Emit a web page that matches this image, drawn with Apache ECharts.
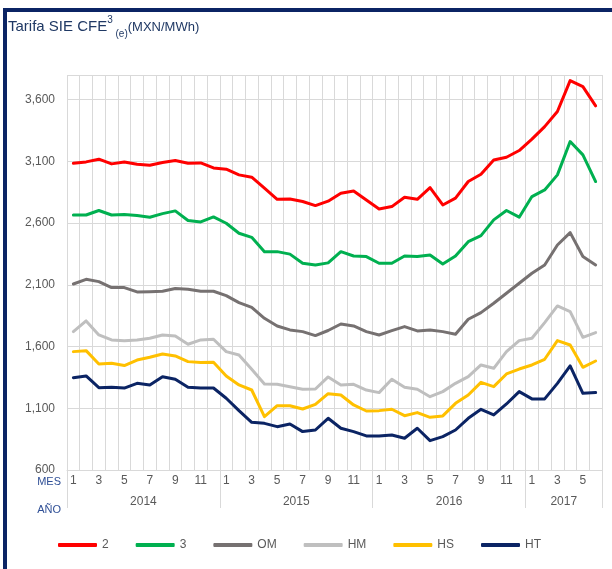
<!DOCTYPE html>
<html>
<head>
<meta charset="utf-8">
<script src="https://cdn.jsdelivr.net/npm/echarts@6/dist/echarts.min.js"></script>
<style>
  html, body { margin: 0; padding: 0; background: #fff; overflow: hidden; }
  #chart { width: 612px; height: 569px; }
  .frame {
    position: absolute; left: 3px; top: 8px; width: 800px; height: 800px;
    border-left: 4px solid #0b2464; border-top: 4px solid #0b2464;
    pointer-events: none;
  }
</style>
</head>
<body>
<div id="chart"></div>
<div class="frame"></div>
<script>
// ── data ─────────────────────────────────────────────────
const monthLabels = [
  '1','2','3','4','5','6','7','8','9','10','11','12',
  '1','2','3','4','5','6','7','8','9','10','11','12',
  '1','2','3','4','5','6','7','8','9','10','11','12',
  '1','2','3','4','5','6',
]
const years     = ['2014', '2015', '2016', '2017']
const yearSpans = [12, 12, 12, 6]
const yTicks    = { min: 600, max: 3800, step: 500 }

const tarifa2  = [3085, 3096, 3118, 3080, 3096, 3077, 3069, 3091, 3107, 3085, 3088, 3047,
                  3037, 2991, 2972, 2883, 2793, 2796, 2775, 2742, 2778, 2842, 2861, 2788,
                  2715, 2734, 2810, 2793, 2888, 2747, 2802, 2937, 2996, 3112, 3134, 3188,
                  3280, 3382, 3504, 3755, 3706, 3550]
const tarifa3  = [2666, 2666, 2702, 2666, 2669, 2661, 2648, 2677, 2699, 2621, 2610, 2650,
                  2599, 2518, 2485, 2369, 2369, 2349, 2275, 2261, 2278, 2369, 2334, 2329,
                  2275, 2275, 2334, 2329, 2342, 2269, 2334, 2450, 2499, 2626, 2702, 2648,
                  2815, 2869, 2991, 3261, 3153, 2937]
const tarifaOM = [2107, 2145, 2126, 2078, 2078, 2043, 2045, 2048, 2070, 2064, 2048, 2048,
                  2013, 1956, 1918, 1829, 1767, 1735, 1721, 1689, 1730, 1783, 1767, 1721,
                  1694, 1729, 1762, 1727, 1735, 1721, 1700, 1821, 1875, 1951, 2032, 2113,
                  2194, 2261, 2423, 2523, 2329, 2261]
const tarifaHM = [1721, 1808, 1694, 1654, 1648, 1654, 1667, 1694, 1686, 1619, 1654, 1659,
                  1559, 1532, 1416, 1297, 1294, 1275, 1254, 1256, 1354, 1289, 1294, 1248,
                  1227, 1335, 1270, 1254, 1194, 1235, 1302, 1356, 1451, 1424, 1559, 1648,
                  1667, 1794, 1929, 1883, 1675, 1713]
const tarifaHS = [1559, 1567, 1459, 1464, 1446, 1491, 1513, 1540, 1524, 1478, 1470, 1473,
                  1362, 1289, 1248, 1032, 1121, 1121, 1094, 1132, 1218, 1208, 1127, 1078,
                  1081, 1092, 1040, 1065, 1027, 1038, 1140, 1208, 1310, 1275, 1378, 1418,
                  1451, 1497, 1648, 1613, 1432, 1483]
const tarifaHT = [1348, 1362, 1267, 1270, 1264, 1302, 1289, 1356, 1335, 1270, 1264, 1264,
                  1181, 1081,  986,  978,  951,  973,  911,  924, 1019,  938,  911,  876,
                   876,  884,  857,  938,  838,  870,  924, 1019, 1092, 1046, 1135, 1235,
                  1176, 1176, 1302, 1443, 1221, 1227]

const seriesDefs = [
  { name: '2',  data: tarifa2,  color: '#ff0000' },
  { name: '3',  data: tarifa3,  color: '#00b050' },
  { name: 'OM', data: tarifaOM, color: '#767171' },
  { name: 'HM', data: tarifaHM, color: '#bfbfbf' },
  { name: 'HS', data: tarifaHS, color: '#ffc000' },
  { name: 'HT', data: tarifaHT, color: '#0b2464' },
]

// year boundaries / centres on a 0..n month scale
const yearEdges = [0]
yearSpans.forEach(s => yearEdges.push(yearEdges[yearEdges.length - 1] + s))
const yearCenters = yearSpans.map((s, i) => yearEdges[i] + s / 2)

// ── chart ────────────────────────────────────────────────
const FONT  = 'Liberation Sans'
const GREY  = '#595959'
const GRID  = '#d9d9d9'
const NAVY  = '#1f3864'

const chart = echarts.init(document.getElementById('chart'))

const titleTok = (size, extra) => ({
  fontFamily: FONT, fontSize: size, fontWeight: 'normal', color: NAVY, ...extra,
})

chart.setOption({
  animation: false,
  textStyle: { fontFamily: FONT },
  title: {
    left: 8, top: 15, padding: 0,
    text: '{a|Tarifa SIE CFE}{sup|3}{sub| (e)}{b|(MXN/MWh)}',
    textStyle: {
      fontWeight: 'normal',
      rich: {
        a:   titleTok(15, { lineHeight: 24 }),
        sup: titleTok(10, { verticalAlign: 'top', lineHeight: 14 }),
        sub: titleTok(10, { verticalAlign: 'bottom', lineHeight: 12 }),
        b:   titleTok(13, { lineHeight: 24 }),
      },
    },
  },
  legend: {
    left: 53, top: 534,
    itemWidth: 39, itemHeight: 4, itemGap: 27,
    icon: 'roundRect',
    textStyle: { color: GREY, fontSize: 12, fontFamily: FONT },
    data: seriesDefs.map(s => s.name),
  },
  grid: { left: 67, right: 10, top: 75, bottom: 99 },
  xAxis: [
    {
      type: 'category', data: monthLabels, boundaryGap: true,
      name: 'MES', nameLocation: 'start', nameGap: 6,
      nameTextStyle: { color: '#2f4f96', fontSize: 11, align: 'right', verticalAlign: 'top', padding: [6, 0, 0, 0] },
      axisLine:  { lineStyle: { color: GRID } },
      axisTick:  { show: false },
      axisLabel: { interval: 1, color: GREY, fontSize: 12, margin: 5 },
      splitLine: { show: true, interval: 0, lineStyle: { color: GRID } },
    },
    {
      type: 'value', min: 0, max: yearEdges[yearEdges.length - 1], position: 'bottom',
      name: 'AÑO', nameLocation: 'start', nameGap: 6,
      nameTextStyle: { color: '#2f4f96', fontSize: 11, align: 'right', verticalAlign: 'top', padding: [34, 0, 0, 0] },
      axisLine:  { show: false },
      axisTick:  { show: true, customValues: yearEdges, length: 38, lineStyle: { color: GRID } },
      axisLabel: {
        customValues: yearCenters, color: GREY, fontSize: 12, margin: 26,
        formatter: v => years[yearCenters.indexOf(v)] ?? '',
      },
      splitLine: { show: false },
    },
  ],
  yAxis: {
    type: 'value', min: yTicks.min, max: yTicks.max, interval: yTicks.step,
    axisLine:  { show: false },
    axisTick:  { show: false },
    axisLabel: {
      color: GREY, fontSize: 12, margin: 12, showMaxLabel: false,
      formatter: v => v.toLocaleString('en-US'),
    },
    splitLine: { lineStyle: { color: GRID } },
  },
  series: seriesDefs.map(s => ({
    name: s.name, type: 'line', data: s.data,
    symbol: 'none', smooth: false,
    lineStyle: { color: s.color, width: 3, cap: 'round', join: 'round' },
    itemStyle: { color: s.color },
  })),
})
</script>
</body>
</html>
